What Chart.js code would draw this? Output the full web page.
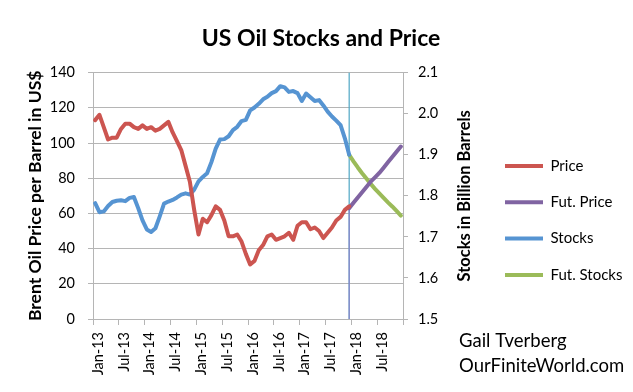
<!DOCTYPE html>
<html>
<head>
<meta charset="utf-8">
<script src="https://cdn.jsdelivr.net/npm/chart.js@4"></script>
<style>
  html, body { margin: 0; padding: 0; background: #fff; }
</style>
</head>
<body>
<canvas id="chart" width="633" height="392"></canvas>
<script>
// x axis: one slot per month, Jan-13 .. Dec-18, a tick every 6 months
const xTickLabels = ['Jan-13', 'Jul-13', 'Jan-14', 'Jul-14', 'Jan-15', 'Jul-15',
  'Jan-16', 'Jul-16', 'Jan-17', 'Jul-17', 'Jan-18', 'Jul-18'];
const monthsPerTick = 6;
const monthCount = 72;

// Brent price, US$ per barrel, Jan-13 .. Dec-17
const price = [
  113, 116, 109, 102, 103, 103, 108, 111, 111, 109, 108, 110,
  108, 109, 107, 108, 110, 112, 106, 101, 96, 87, 78, 62,
  48, 57, 55, 59, 64, 62, 56, 47, 47, 48, 44, 37,
  31, 33, 39, 42, 47, 48, 45, 46, 47, 49, 45, 53,
  55, 55, 51, 52, 50, 46, 49, 52, 56, 58, 62, 64
];
// US oil stocks, billion barrels, Jan-13 .. Dec-17
const stocks = [
  1.782, 1.760, 1.762, 1.775, 1.785, 1.788, 1.789, 1.787, 1.795, 1.797, 1.770, 1.740,
  1.718, 1.712, 1.721, 1.750, 1.781, 1.786, 1.790, 1.796, 1.803, 1.806, 1.803, 1.815,
  1.835, 1.846, 1.855, 1.882, 1.915, 1.937, 1.938, 1.945, 1.960, 1.968, 1.982, 1.985,
  2.008, 2.015, 2.024, 2.035, 2.041, 2.050, 2.055, 2.067, 2.064, 2.053, 2.055, 2.050,
  2.031, 2.049, 2.040, 2.031, 2.033, 2.020, 2.005, 1.993, 1.983, 1.972, 1.940, 1.900
];
// projections, Dec-17 .. Dec-18
const futStart = 59;
const futPrice = [63, 66, 69, 72, 75, 78, 80.5, 83, 86, 89, 92, 95, 98];
const futStocks = [1.900, 1.884, 1.869, 1.855, 1.842, 1.829, 1.817, 1.806, 1.795, 1.784, 1.774, 1.763, 1.752];

const priceMin = 0, priceMax = 140, priceStep = 20;
const stockMin = 1.5, stockMax = 2.1, stockStep = 0.1;

const FONT = 'Lato';
const gridColor = '#b5b5b5';
const legendPad = 21.3;

// points sit in the middle of their month slot
const pts = (arr, start) => arr.map((v, i) => ({ x: start + i + 0.5, y: v }));

function series(label, data, color, axis) {
  return {
    label: label,
    data: data,
    yAxisID: axis,
    borderColor: color,
    backgroundColor: color,
    borderWidth: 4,
    pointRadius: 0,
    tension: 0,
    borderJoinStyle: 'round',
    borderCapStyle: 'round'
  };
}

const splitX = futStart + 0.5;
const marker = (data, color, axis) => ({
  data: data, yAxisID: axis, borderColor: color, borderWidth: 1.2,
  pointRadius: 0
});

// the legend box is capped narrow by the layout, so move it where it belongs
const placeLegend = {
  id: 'placeLegend',
  afterLayout(chart) {
    const lg = chart.legend;
    const dy = (166 - 7.5 - legendPad) - lg.top;
    lg.left = 505 - legendPad;
    lg.right = 633;
    lg.width = lg.right - lg.left;
    lg.top += dy; lg.bottom += dy;
  }
};

const extraText = {
  id: 'extraText',
  afterDraw(chart) {
    const ctx = chart.ctx;
    const area = chart.chartArea;
    ctx.save();
    ctx.fillStyle = '#000';
    // right axis title, reading bottom to top
    ctx.font = 'bold 16.5px ' + FONT;
    ctx.textAlign = 'center';
    ctx.textBaseline = 'middle';
    ctx.translate(465, (area.top + area.bottom) / 2);
    ctx.rotate(-Math.PI / 2);
    ctx.fillText('Stocks in Billion Barrels', 0, 0);
    ctx.restore();
    ctx.save();
    ctx.fillStyle = '#000';
    ctx.font = '18.5px ' + FONT;
    ctx.textAlign = 'left';
    ctx.textBaseline = 'middle';
    ctx.fillText('Gail Tverberg', 459, 341);
    ctx.fillText('OurFiniteWorld.com', 459, 366);
    ctx.restore();
  }
};

new Chart(document.getElementById('chart').getContext('2d'), {
  type: 'line',
  data: {
    datasets: [
      series('Price', pts(price, 0), '#cc5550', 'y'),
      series('Fut. Price', pts(futPrice, futStart), '#8064a2', 'y'),
      series('Stocks', pts(stocks, 0), '#5694d2', 'y1'),
      series('Fut. Stocks', pts(futStocks, futStart), '#9bbb59', 'y1'),
      marker([{ x: splitX, y: priceMin }, { x: splitX, y: futPrice[0] }], '#8a84c8', 'y'),
      marker([{ x: splitX, y: stockMin }, { x: splitX, y: stockMax }], '#4fa6c4', 'y1')
    ]
  },
  options: {
    responsive: false,
    animation: false,
    devicePixelRatio: 1,
    layout: { padding: { left: 9, right: 0, top: 0, bottom: 0 } },
    plugins: {
      title: {
        display: true,
        text: 'US Oil Stocks and Price',
        color: '#000',
        font: { family: FONT, size: 23, weight: 'bold' },
        padding: { top: 25, bottom: 20 }
      },
      legend: {
        position: 'right',
        align: 'start',
        labels: {
          filter: item => item.datasetIndex < 4,
          usePointStyle: true,
          pointStyle: 'line',
          pointStyleWidth: 38,
          padding: legendPad,
          color: '#000',
          font: { family: FONT, size: 15 }
        }
      },
      tooltip: { enabled: false }
    },
    scales: {
      x: {
        type: 'linear',
        min: 0,
        max: monthCount,
        afterFit: s => { s.height = 73; },
        border: { color: gridColor },
        grid: { drawOnChartArea: false, tickLength: 6, color: gridColor },
        ticks: {
          stepSize: monthsPerTick,
          autoSkip: false,
          minRotation: 90,
          maxRotation: 90,
          padding: 7,
          labelOffset: 5,
          color: '#000',
          font: { family: FONT, size: 14.5 },
          callback: v => xTickLabels[v / monthsPerTick] || ''
        }
      },
      y: {
        position: 'left',
        min: priceMin,
        max: priceMax,
        afterFit: s => { s.width = 84; },
        border: { color: gridColor },
        grid: { color: gridColor, tickLength: 5 },
        ticks: {
          stepSize: priceStep,
          padding: 13,
          color: '#000',
          font: { family: FONT, size: 14.5 }
        },
        title: {
          display: true,
          text: 'Brent Oil Price per Barrel in US$',
          color: '#000',
          font: { family: FONT, size: 17.5, weight: 'bold' },
          padding: { top: 16, bottom: 16 }
        }
      },
      y1: {
        position: 'right',
        min: stockMin,
        max: stockMax,
        afterFit: s => { s.width = 126; },
        border: { color: gridColor },
        grid: { drawOnChartArea: false, tickLength: 5, color: gridColor },
        ticks: {
          stepSize: stockStep,
          padding: 10,
          color: '#000',
          font: { family: FONT, size: 14.5 },
          callback: v => v.toFixed(1)
        }
      }
    }
  },
  plugins: [placeLegend, extraText]
});
</script>
</body>
</html>
